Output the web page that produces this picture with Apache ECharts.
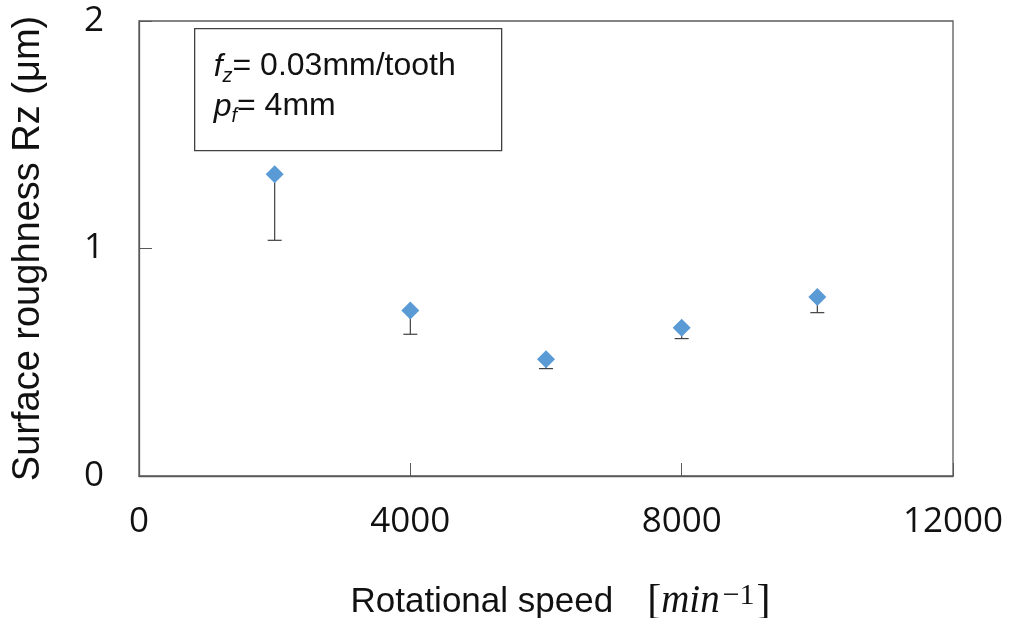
<!DOCTYPE html>
<html>
<head>
<meta charset="utf-8">
<script src="https://cdn.jsdelivr.net/npm/echarts@6/dist/echarts.min.js"></script>
<style>html,body{margin:0;padding:0;background:#fff}#c{width:1011px;height:618px}</style>
</head>
<body>
<div id="c"></div>
<script>
var speeds = [2000, 4000, 6000, 8000, 10000];
var roughness = [1.326, 0.727, 0.513, 0.652, 0.787];
var lowerBound = [1.036, 0.623, 0.472, 0.604, 0.718];
var xTicks = [0, 4000, 8000, 12000];
var yTicks = [0, 1, 2];

var points = speeds.map(function (s, i) { return [s, roughness[i]]; });
var errs = speeds.map(function (s, i) { return [s, roughness[i], lowerBound[i]]; });

var chart = echarts.init(document.getElementById('c'));
var tickFont = { fontFamily: 'Open Sans', fontSize: 35, color: '#111' };
chart.setOption({
  animation: false,
  grid: { left: 139, top: 21, right: 58, bottom: 142, show: true, borderColor: '#595959', borderWidth: 1.3, containLabel: false, outerBoundsMode: 'none' },
  xAxis: {
    type: 'value', min: xTicks[0], max: xTicks[xTicks.length - 1], interval: 4000,
    axisLine: { lineStyle: { color: '#595959', width: 1.3 } },
    axisTick: { inside: true, length: 13, lineStyle: { color: '#595959' } },
    splitLine: { show: false },
    axisLabel: Object.assign({ margin: 29, formatter: function (v) { return String(v); } }, tickFont),
    name: 'Rotational speed{b1|[}{m|min}{sup|−1}{b|]}',
    nameLocation: 'middle', nameGap: 105,
    nameTextStyle: {
      fontFamily: 'Liberation Sans', fontSize: 35, color: '#111', padding: [0, 0, 0, 29],
      rich: {
        b1: { fontFamily: 'Liberation Serif', fontSize: 42, color: '#111', padding: [0, 0, 0, 34] },
        b: { fontFamily: 'Liberation Serif', fontSize: 42, color: '#111' },
        m: { fontFamily: 'Liberation Serif', fontStyle: 'italic', fontSize: 39, color: '#111' },
        sup: { fontFamily: 'Liberation Serif', fontSize: 30, color: '#111', verticalAlign: 'top', lineHeight: 26, padding: [0, 2, 0, 3] }
      }
    }
  },
  yAxis: {
    type: 'value', min: yTicks[0], max: yTicks[yTicks.length - 1], interval: 1,
    axisLine: { show: true, lineStyle: { color: '#595959', width: 1.3 } },
    axisTick: { show: true, inside: true, length: 13, lineStyle: { color: '#595959' } },
    splitLine: { show: false },
    axisLabel: Object.assign({ margin: 35 }, tickFont),
    name: 'Surface roughness Rz (μm)',
    nameLocation: 'middle', nameGap: 91,
    nameTextStyle: { fontFamily: 'Liberation Sans', fontSize: 38, color: '#111' }
  },
  graphic: [{
    type: 'group', left: 194, top: 28, z: 100,
    children: [
      { type: 'rect', shape: { x: 0, y: 0, width: 307, height: 122 }, style: { fill: '#fff', stroke: '#404040', lineWidth: 1.3 } },
      { type: 'text', x: 19, y: 18, style: {
          text: '{i|f}{s|z}{n|= 0.03mm/tooth}\n{i|p}{s|f}{n|= 4mm}',
          rich: {
            i: { fontFamily: 'Liberation Sans', fontStyle: 'italic', fontSize: 32, lineHeight: 40, fill: '#111' },
            s: { fontFamily: 'Liberation Sans', fontStyle: 'italic', fontSize: 20, lineHeight: 20, verticalAlign: 'bottom', fill: '#111' },
            n: { fontFamily: 'Liberation Sans', fontSize: 32, lineHeight: 40, fill: '#111' }
          }
        } }
    ]
  }],
  series: [
    {
      type: 'custom', z: 1,
      data: errs,
      renderItem: function (params, api) {
        var x = api.coord([api.value(0), api.value(1)]);
        var lo = api.coord([api.value(0), api.value(2)]);
        var hw = 7;
        return {
          type: 'group',
          children: [
            { type: 'line', shape: { x1: x[0], y1: x[1], x2: lo[0], y2: lo[1] }, style: { stroke: '#404040', lineWidth: 1.2 } },
            { type: 'line', shape: { x1: lo[0] - hw, y1: lo[1], x2: lo[0] + hw, y2: lo[1] }, style: { stroke: '#404040', lineWidth: 1.2 } }
          ]
        };
      }
    },
    {
      type: 'scatter', z: 5, data: points, symbol: 'diamond', symbolSize: 18,
      itemStyle: { color: '#5B9BD5', opacity: 1 }
    }
  ]
});
</script>
</body>
</html>
